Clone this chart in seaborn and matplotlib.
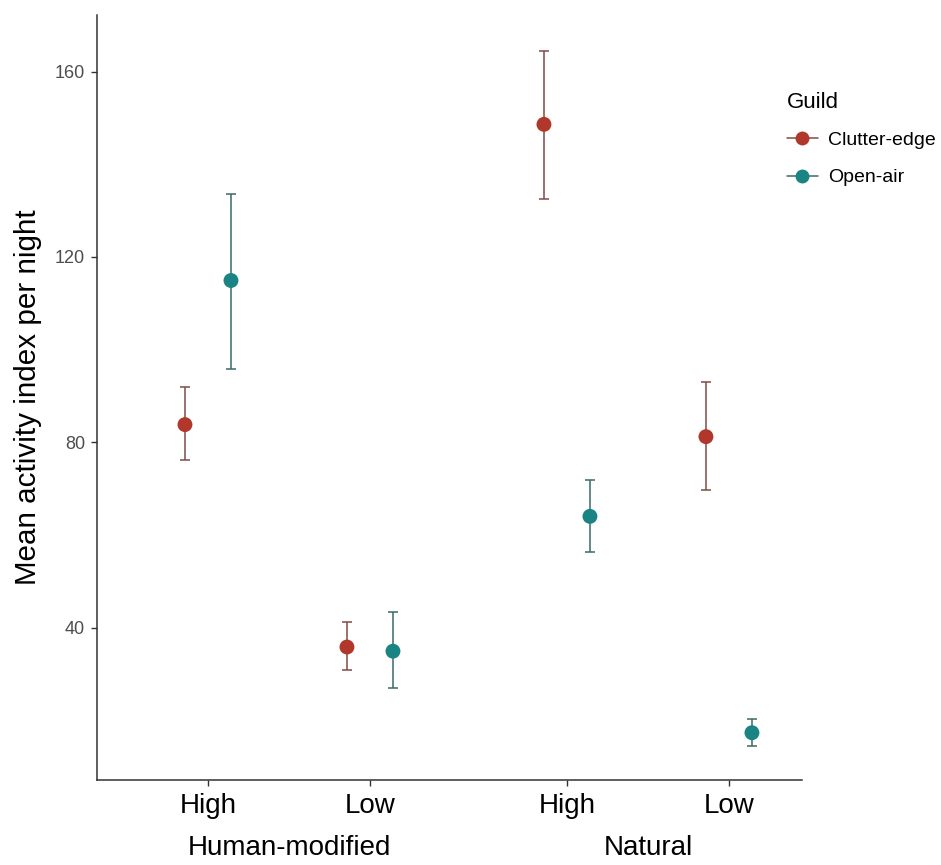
import matplotlib
matplotlib.use("Agg")
import matplotlib.pyplot as plt
import matplotlib.transforms as mtransforms
from matplotlib.lines import Line2D
import numpy as np
import pandas as pd
import seaborn as sns

# ---- data -------------------------------------------------------------
landscapes = ["Human-modified", "Human-modified", "Natural", "Natural"]
levels = ["High", "Low", "High", "Low"]
guilds = ["Clutter-edge", "Open-air"]

clutter_mean = [83.8, 35.8, 148.6, 81.2]
clutter_low = [76.1, 30.8, 132.5, 69.7]
clutter_high = [91.9, 41.2, 164.4, 93.1]

open_mean = [114.9, 34.9, 64.0, 17.3]
open_low = [95.8, 26.9, 56.4, 14.5]
open_high = [133.5, 43.4, 71.9, 20.2]

y_ticks = [40, 80, 120, 160]

# ---- styling ----------------------------------------------------------
point_colors = {"Clutter-edge": "#B1372B", "Open-air": "#1A8383"}
bar_colors = {"Clutter-edge": "#7E4C46", "Open-air": "#3A6A6A"}
FONT = "Liberation Sans"
GROUP_GAP = 0.216
DODGE = 0.142

sns.set_theme(style="white")
plt.rcParams["font.family"] = [FONT, "DejaVu Sans"]

# x position of each landscape/level slot, with a gap between landscapes
group_index = {name: i for i, name in enumerate(dict.fromkeys(landscapes))}
slot_x = [i + GROUP_GAP * group_index[g] for i, g in enumerate(landscapes)]

rows = []
for guild, means, lows, highs, off in [
    ("Clutter-edge", clutter_mean, clutter_low, clutter_high, -DODGE),
    ("Open-air", open_mean, open_low, open_high, DODGE),
]:
    for x0, m, lo, hi in zip(slot_x, means, lows, highs):
        rows.append({"Guild": guild, "x": x0 + off, "mean": m, "low": lo, "high": hi})
df = pd.DataFrame(rows)

fig = plt.figure(figsize=(9.41, 8.65), dpi=100)
ax = fig.add_axes([97 / 941, 85 / 865, 705 / 941, 765 / 865])

for guild in guilds:
    sub = df[df["Guild"] == guild]
    ax.errorbar(sub["x"], sub["mean"],
                yerr=[sub["mean"] - sub["low"], sub["high"] - sub["mean"]],
                fmt="none", ecolor=bar_colors[guild], elinewidth=1.1,
                capsize=3.6, capthick=1.1, zorder=2)

sns.scatterplot(data=df, x="x", y="mean", hue="Guild", hue_order=guilds,
                palette=point_colors, s=115, linewidth=0, legend=False,
                ax=ax, zorder=3)

ax.set_xlim(-0.685, 3.667)
ax.set_ylim(7.1, 172.2)
ax.set_xticks(slot_x)
ax.set_xticklabels(levels, fontsize=20, color="black", family=FONT)
ax.set_yticks(y_ticks)
ax.set_yticklabels([str(v) for v in y_ticks], fontsize=13, color="#4D4D4D", family=FONT)
ax.set_xlabel("")
ax.set_ylabel("Mean activity index per night", fontsize=21.3, color="black",
              family=FONT, labelpad=9)

for side in ["top", "right"]:
    ax.spines[side].set_visible(False)
for side in ["left", "bottom"]:
    ax.spines[side].set_color("#333333")
    ax.spines[side].set_linewidth(1.1)
ax.tick_params(axis="both", which="major", direction="out", length=4.5,
               width=1.0, color="#333333", bottom=True, left=True)
ax.tick_params(axis="x", pad=5)
ax.tick_params(axis="y", pad=4)
ax.grid(False)

# landscape labels centred under their pair of ticks
trans = mtransforms.blended_transform_factory(ax.transData, fig.transFigure)
for name, gi in group_index.items():
    xs = [x for x, g in zip(slot_x, landscapes) if g == name]
    ax.text(np.mean(xs), (865 - 848) / 865, name, transform=trans,
            ha="center", va="center", fontsize=20, color="black", family=FONT)

handles = [Line2D([], [], color=bar_colors[g], lw=1.1, marker="o",
                  markersize=10, markerfacecolor=point_colors[g],
                  markeredgewidth=0) for g in guilds]
leg = fig.legend(handles, guilds, title="Guild", loc="upper left",
                 bbox_to_anchor=(769 / 941, (865 - 74) / 865),
                 frameon=False, fontsize=14, title_fontsize=16,
                 handlelength=1.6, handletextpad=0.55, labelspacing=1.02,
                 alignment="left")
# gap between the title and the first entry
leg._legend_box.sep = 13.5
for t in leg.get_texts():
    t.set_family(FONT)
    t.set_color("black")
leg.get_title().set_family(FONT)
leg.get_title().set_color("black")

fig.savefig("out.png", dpi=100, facecolor="white")
